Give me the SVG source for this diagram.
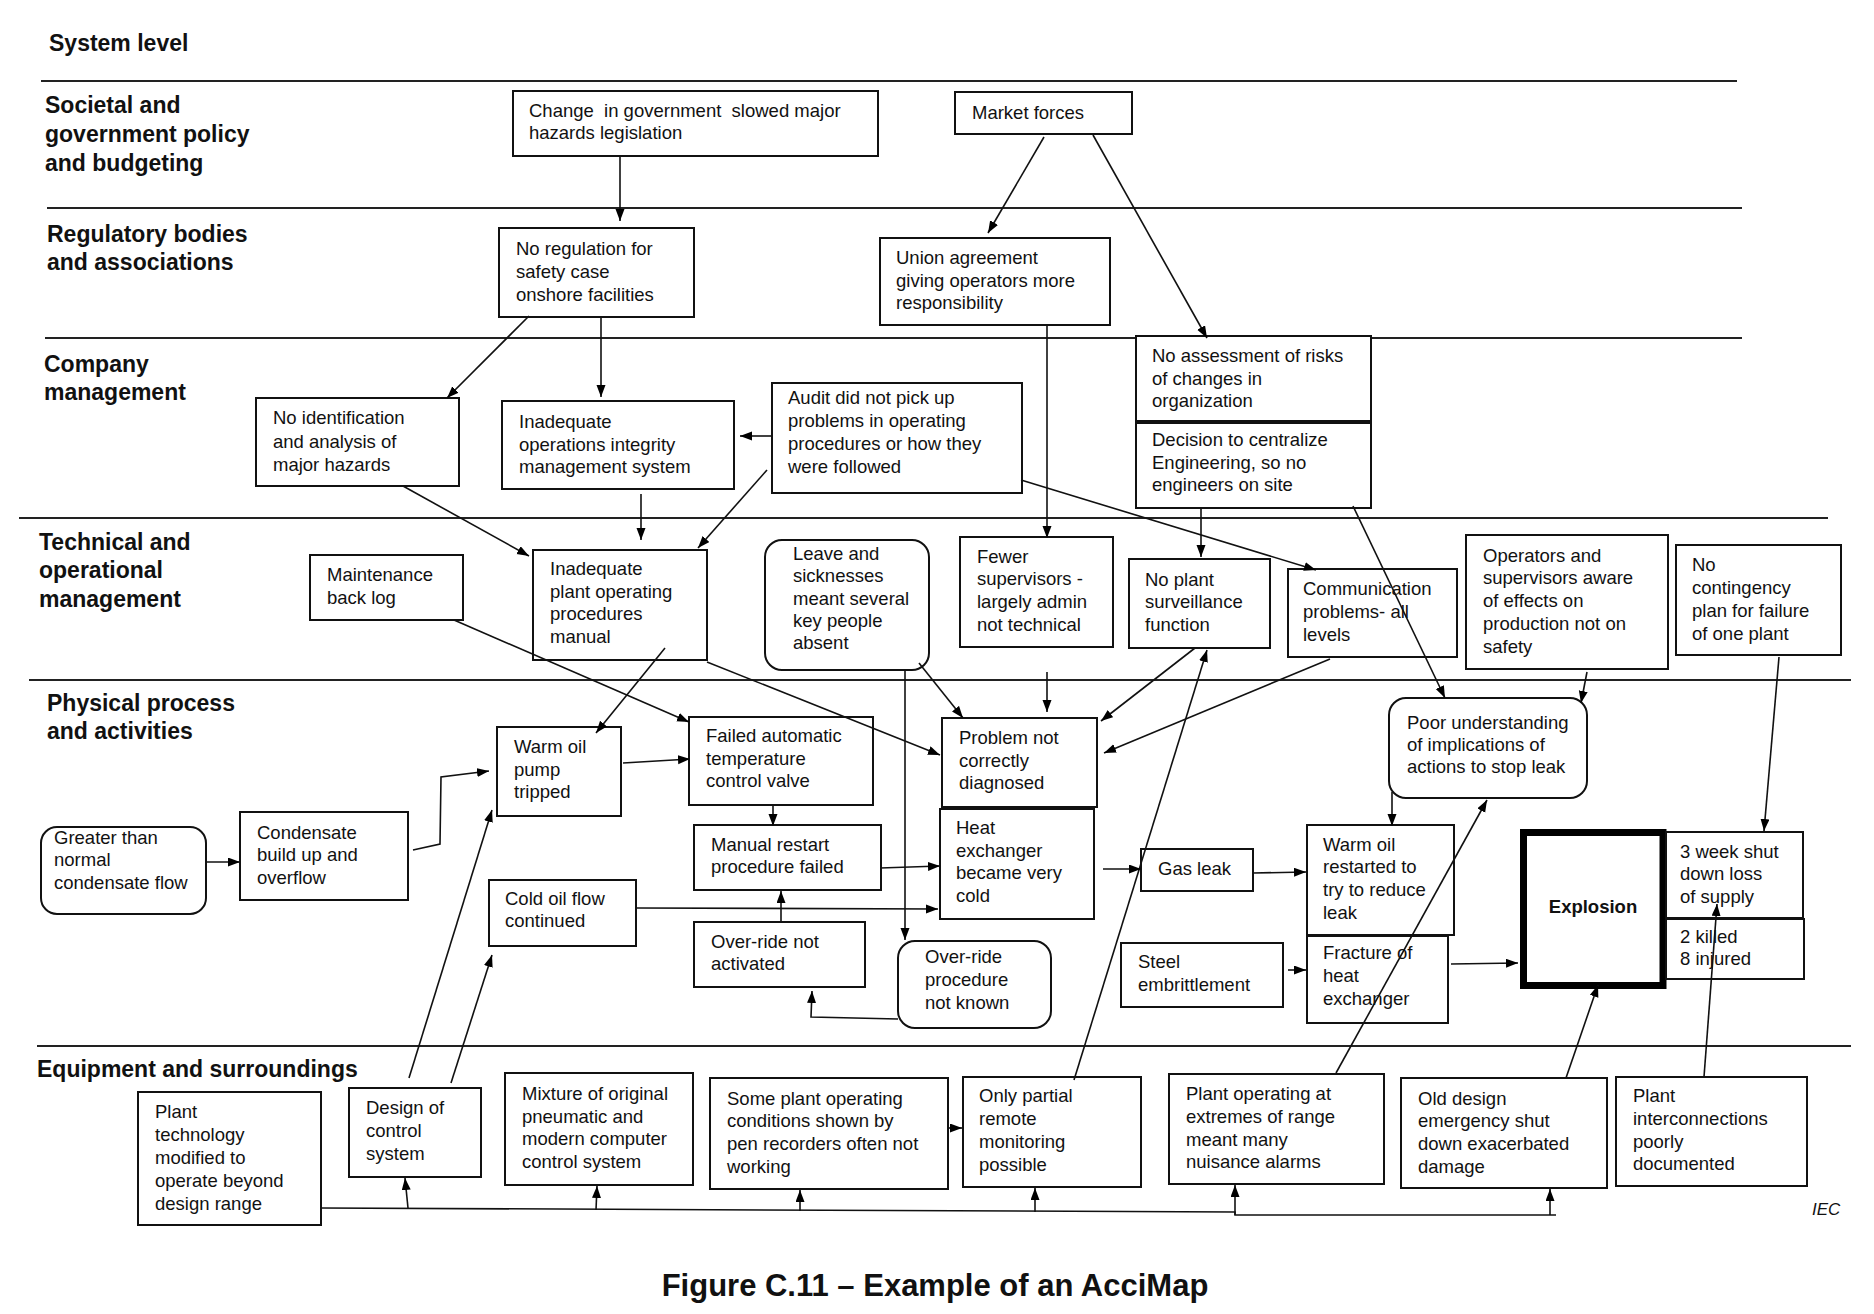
<svg xmlns="http://www.w3.org/2000/svg" width="1874" height="1314" viewBox="0 0 1874 1314">
<defs>
<marker id="ah" markerUnits="userSpaceOnUse" markerWidth="13" markerHeight="10" refX="12" refY="4.5" orient="auto">
<path d="M0,0 L12,4.5 L0,9 z" fill="#000"/>
</marker>
<style>
.lvl{fill:none;stroke:#222;stroke-width:2}
.lab{font-family:"Liberation Sans",Arial,sans-serif;font-weight:bold;font-size:23px;fill:#111}
.box{fill:#fff;stroke:#111;stroke-width:2}
.t{font-family:"Liberation Sans",Arial,sans-serif;font-size:18.5px;fill:#111}
.tb{font-family:"Liberation Sans",Arial,sans-serif;font-size:18.5px;font-weight:bold;fill:#111}
.c{fill:none;stroke:#111;stroke-width:1.6;marker-end:url(#ah)}
.cn{fill:none;stroke:#111;stroke-width:1.6}
</style>
</defs>
<rect width="1874" height="1314" fill="#fff"/>

<g id="levels">
<line class="lvl" x1="41" y1="81" x2="1737" y2="81"/>
<line class="lvl" x1="47" y1="208" x2="1742" y2="208"/>
<line class="lvl" x1="45" y1="338" x2="1742" y2="338"/>
<line class="lvl" x1="19" y1="518" x2="1828" y2="518"/>
<line class="lvl" x1="29" y1="680" x2="1851" y2="680"/>
<line class="lvl" x1="37" y1="1046" x2="1851" y2="1046"/>
<text class="lab" x="49" y="51">System level</text>
<text class="lab" x="45" y="113">Societal and<tspan x="45" y="142">government policy</tspan><tspan x="45" y="171">and budgeting</tspan></text>
<text class="lab" x="47" y="242">Regulatory bodies<tspan x="47" y="270">and associations</tspan></text>
<text class="lab" x="44" y="372">Company<tspan x="44" y="400">management</tspan></text>
<text class="lab" x="39" y="550">Technical and<tspan x="39" y="578">operational</tspan><tspan x="39" y="607">management</tspan></text>
<text class="lab" x="47" y="711">Physical process<tspan x="47" y="739">and activities</tspan></text>
<text class="lab" x="37" y="1077">Equipment and surroundings</text>
</g>

<g id="n1"><rect class="box" x="513" y="91" width="365" height="65"/><text class="t" x="529" y="117" xml:space="preserve">Change  in government  slowed major<tspan x="529" y="139">hazards legislation</tspan></text></g>
<g id="n2"><rect class="box" x="955" y="92" width="177" height="42"/><text class="t" x="972" y="119">Market forces</text></g>
<g id="n3"><rect class="box" x="499" y="228" width="195" height="89"/><text class="t" x="516" y="255">No regulation for<tspan x="516" y="278">safety case</tspan><tspan x="516" y="301">onshore facilities</tspan></text></g>
<g id="n4"><rect class="box" x="880" y="238" width="230" height="87"/><text class="t" x="896" y="264">Union agreement<tspan x="896" y="287">giving operators more</tspan><tspan x="896" y="309">responsibility</tspan></text></g>
<g id="n5"><rect class="box" x="1136" y="336" width="235" height="85"/><text class="t" x="1152" y="362">No assessment of risks<tspan x="1152" y="385">of changes in</tspan><tspan x="1152" y="407">organization</tspan></text></g>
<g id="n6"><rect class="box" x="1136" y="423" width="235" height="85"/><text class="t" x="1152" y="446">Decision to centralize<tspan x="1152" y="469">Engineering, so no</tspan><tspan x="1152" y="491">engineers on site</tspan></text></g>
<g id="n7"><rect class="box" x="256" y="398" width="203" height="88"/><text class="t" x="273" y="424">No identification<tspan x="273" y="448">and analysis of</tspan><tspan x="273" y="471">major hazards</tspan></text></g>
<g id="n8"><rect class="box" x="502" y="401" width="232" height="88"/><text class="t" x="519" y="428">Inadequate<tspan x="519" y="451">operations integrity</tspan><tspan x="519" y="473">management system</tspan></text></g>
<g id="n9"><rect class="box" x="772" y="383" width="250" height="110"/><text class="t" x="788" y="404">Audit did not pick up<tspan x="788" y="427">problems in operating</tspan><tspan x="788" y="450">procedures or how they</tspan><tspan x="788" y="473">were followed</tspan></text></g>
<g id="n10"><rect class="box" x="310" y="555" width="153" height="65"/><text class="t" x="327" y="581">Maintenance<tspan x="327" y="604">back log</tspan></text></g>
<g id="n11"><rect class="box" x="533" y="550" width="174" height="110"/><text class="t" x="550" y="575">Inadequate<tspan x="550" y="598">plant operating</tspan><tspan x="550" y="620">procedures</tspan><tspan x="550" y="643">manual</tspan></text></g>
<g id="n12"><rect class="box" x="765" y="540" width="164" height="130" rx="17"/><text class="t" x="793" y="560">Leave and<tspan x="793" y="582">sicknesses</tspan><tspan x="793" y="605">meant several</tspan><tspan x="793" y="627">key people</tspan><tspan x="793" y="649">absent</tspan></text></g>
<g id="n13"><rect class="box" x="960" y="537" width="153" height="110"/><text class="t" x="977" y="563">Fewer<tspan x="977" y="585">supervisors -</tspan><tspan x="977" y="608">largely admin</tspan><tspan x="977" y="631">not technical</tspan></text></g>
<g id="n14"><rect class="box" x="1129" y="559" width="141" height="89"/><text class="t" x="1145" y="586">No plant<tspan x="1145" y="608">surveillance</tspan><tspan x="1145" y="631">function</tspan></text></g>
<g id="n15"><rect class="box" x="1288" y="569" width="169" height="88"/><text class="t" x="1303" y="595">Communication<tspan x="1303" y="618">problems- all</tspan><tspan x="1303" y="641">levels</tspan></text></g>
<g id="n16"><rect class="box" x="1466" y="535" width="202" height="134"/><text class="t" x="1483" y="562">Operators and<tspan x="1483" y="584">supervisors aware</tspan><tspan x="1483" y="607">of effects on</tspan><tspan x="1483" y="630">production not on</tspan><tspan x="1483" y="653">safety</tspan></text></g>
<g id="n17"><rect class="box" x="1676" y="545" width="165" height="110"/><text class="t" x="1692" y="571">No<tspan x="1692" y="594">contingency</tspan><tspan x="1692" y="617">plan for failure</tspan><tspan x="1692" y="640">of one plant</tspan></text></g>
<g id="n18"><rect class="box" x="497" y="727" width="124" height="89"/><text class="t" x="514" y="753">Warm oil<tspan x="514" y="776">pump</tspan><tspan x="514" y="798">tripped</tspan></text></g>
<g id="n19"><rect class="box" x="689" y="717" width="184" height="88"/><text class="t" x="706" y="742">Failed automatic<tspan x="706" y="765">temperature</tspan><tspan x="706" y="787">control valve</tspan></text></g>
<g id="n20"><rect class="box" x="41" y="827" width="165" height="87" rx="16"/><text class="t" x="54" y="844">Greater than<tspan x="54" y="866">normal</tspan><tspan x="54" y="889">condensate flow</tspan></text></g>
<g id="n21"><rect class="box" x="240" y="812" width="168" height="88"/><text class="t" x="257" y="839">Condensate<tspan x="257" y="861">build up and</tspan><tspan x="257" y="884">overflow</tspan></text></g>
<g id="n22"><rect class="box" x="489" y="880" width="147" height="66"/><text class="t" x="505" y="905">Cold oil flow<tspan x="505" y="927">continued</tspan></text></g>
<g id="n23"><rect class="box" x="694" y="825" width="187" height="65"/><text class="t" x="711" y="851">Manual restart<tspan x="711" y="873">procedure failed</tspan></text></g>
<g id="n24"><rect class="box" x="694" y="922" width="171" height="65"/><text class="t" x="711" y="948">Over-ride not<tspan x="711" y="970">activated</tspan></text></g>
<g id="n25"><rect class="box" x="942" y="718" width="155" height="89"/><text class="t" x="959" y="744">Problem not<tspan x="959" y="767">correctly</tspan><tspan x="959" y="789">diagnosed</tspan></text></g>
<g id="n26"><rect class="box" x="940" y="809" width="154" height="110"/><text class="t" x="956" y="834">Heat<tspan x="956" y="857">exchanger</tspan><tspan x="956" y="879">became very</tspan><tspan x="956" y="902">cold</tspan></text></g>
<g id="n27"><rect class="box" x="898" y="941" width="153" height="87" rx="17"/><text class="t" x="925" y="963">Over-ride<tspan x="925" y="986">procedure</tspan><tspan x="925" y="1009">not known</tspan></text></g>
<g id="n28"><rect class="box" x="1141" y="849" width="112" height="42"/><text class="t" x="1158" y="875">Gas leak</text></g>
<g id="n29"><rect class="box" x="1389" y="698" width="198" height="100" rx="17"/><text class="t" x="1407" y="729">Poor understanding<tspan x="1407" y="751">of implications of</tspan><tspan x="1407" y="773">actions to stop leak</tspan></text></g>
<g id="n30"><rect class="box" x="1307" y="825" width="147" height="110"/><text class="t" x="1323" y="851">Warm oil<tspan x="1323" y="873">restarted to</tspan><tspan x="1323" y="896">try to reduce</tspan><tspan x="1323" y="919">leak</tspan></text></g>
<g id="n31"><rect class="box" x="1307" y="936" width="141" height="87"/><text class="t" x="1323" y="959">Fracture of<tspan x="1323" y="982">heat</tspan><tspan x="1323" y="1005">exchanger</tspan></text></g>
<g id="n32"><rect class="box" x="1121" y="943" width="162" height="64"/><text class="t" x="1138" y="968">Steel<tspan x="1138" y="991">embrittlement</tspan></text></g>
<g id="n33"><rect x="1523.5" y="832.5" width="139.5" height="153" fill="#fff" stroke="#000" stroke-width="7"/><text class="tb" x="1593" y="913" text-anchor="middle">Explosion</text></g>
<g id="n34"><rect class="box" x="1666" y="832" width="137" height="86"/><text class="t" x="1680" y="858">3 week shut<tspan x="1680" y="880">down loss</tspan><tspan x="1680" y="903">of supply</tspan></text></g>
<g id="n35"><rect class="box" x="1666" y="919" width="138" height="60"/><text class="t" x="1680" y="943">2 killed<tspan x="1680" y="965">8 injured</tspan></text></g>
<g id="n36"><rect class="box" x="138" y="1092" width="183" height="133"/><text class="t" x="155" y="1118">Plant<tspan x="155" y="1141">technology</tspan><tspan x="155" y="1164">modified to</tspan><tspan x="155" y="1187">operate beyond</tspan><tspan x="155" y="1210">design range</tspan></text></g>
<g id="n37"><rect class="box" x="349" y="1088" width="132" height="89"/><text class="t" x="366" y="1114">Design of<tspan x="366" y="1137">control</tspan><tspan x="366" y="1160">system</tspan></text></g>
<g id="n38"><rect class="box" x="505" y="1073" width="188" height="112"/><text class="t" x="522" y="1100">Mixture of original<tspan x="522" y="1123">pneumatic and</tspan><tspan x="522" y="1145">modern computer</tspan><tspan x="522" y="1168">control system</tspan></text></g>
<g id="n39"><rect class="box" x="710" y="1078" width="238" height="111"/><text class="t" x="727" y="1105">Some plant operating<tspan x="727" y="1127">conditions shown by</tspan><tspan x="727" y="1150">pen recorders often not</tspan><tspan x="727" y="1173">working</tspan></text></g>
<g id="n40"><rect class="box" x="963" y="1077" width="178" height="110"/><text class="t" x="979" y="1102">Only partial<tspan x="979" y="1125">remote</tspan><tspan x="979" y="1148">monitoring</tspan><tspan x="979" y="1171">possible</tspan></text></g>
<g id="n41"><rect class="box" x="1169" y="1074" width="215" height="110"/><text class="t" x="1186" y="1100">Plant operating at<tspan x="1186" y="1123">extremes of range</tspan><tspan x="1186" y="1146">meant many</tspan><tspan x="1186" y="1168">nuisance alarms</tspan></text></g>
<g id="n42"><rect class="box" x="1401" y="1078" width="206" height="110"/><text class="t" x="1418" y="1105">Old design<tspan x="1418" y="1127">emergency shut</tspan><tspan x="1418" y="1150">down exacerbated</tspan><tspan x="1418" y="1173">damage</tspan></text></g>
<g id="n43"><rect class="box" x="1616" y="1077" width="191" height="109"/><text class="t" x="1633" y="1102">Plant<tspan x="1633" y="1125">interconnections</tspan><tspan x="1633" y="1148">poorly</tspan><tspan x="1633" y="1170">documented</tspan></text></g>

<g id="connectors">
<line class="c" x1="620" y1="156" x2="620" y2="221"/>
<line class="c" x1="1044" y1="137" x2="988" y2="233"/>
<line class="c" x1="1093" y1="135" x2="1207" y2="338"/>
<line class="c" x1="529" y1="316" x2="447" y2="398"/>
<line class="c" x1="601" y1="316" x2="601" y2="397"/>
<line class="c" x1="772" y1="436" x2="740" y2="436"/>
<line class="c" x1="1047" y1="326" x2="1047" y2="538"/>
<line class="c" x1="1201" y1="508" x2="1201" y2="557"/>
<line class="c" x1="1021" y1="480" x2="1316" y2="570"/>
<line class="c" x1="1353" y1="506" x2="1445" y2="698"/>
<line class="c" x1="403" y1="486" x2="529" y2="556"/>
<line class="c" x1="641" y1="494" x2="641" y2="540"/>
<line class="c" x1="767" y1="470" x2="698" y2="548"/>
<line class="c" x1="454" y1="620" x2="689" y2="722"/>
<line class="c" x1="665" y1="648" x2="596" y2="733"/>
<line class="c" x1="707" y1="662" x2="940" y2="755"/>
<line class="c" x1="919" y1="663" x2="963" y2="718"/>
<line class="c" x1="905" y1="671" x2="905" y2="940"/>
<line class="c" x1="1047" y1="672" x2="1047" y2="712"/>
<line class="c" x1="1195" y1="648" x2="1101" y2="721"/>
<line class="c" x1="1330" y1="659" x2="1104" y2="753"/>
<line class="c" x1="1074" y1="1080" x2="1207" y2="650"/>
<line class="c" x1="1587" y1="672" x2="1581" y2="703"/>
<line class="c" x1="1779" y1="657" x2="1764" y2="831"/>
<line class="c" x1="623" y1="763" x2="690" y2="759"/>
<line class="c" x1="207" y1="862" x2="240" y2="862"/>
<polyline class="c" points="413,850 440,844 441,777 489,771"/>
<line class="c" x1="773" y1="806" x2="773" y2="826"/>
<line class="c" x1="880" y1="868" x2="940" y2="866"/>
<line class="c" x1="636" y1="908" x2="938" y2="909"/>
<line class="c" x1="781" y1="922" x2="781" y2="891"/>
<polyline class="c" points="898,1019 811,1017 812,991"/>
<line class="c" x1="1103" y1="869" x2="1141" y2="869"/>
<line class="c" x1="1253" y1="873" x2="1306" y2="872"/>
<line class="c" x1="1392" y1="792" x2="1392" y2="826"/>
<line class="c" x1="1336" y1="1073" x2="1487" y2="800"/>
<line class="c" x1="1288" y1="970" x2="1306" y2="970"/>
<line class="c" x1="1451" y1="964" x2="1518" y2="963"/>
<line class="c" x1="1566" y1="1078" x2="1598" y2="985"/>
<line class="c" x1="1704" y1="1077" x2="1717" y2="904"/>
<line class="c" x1="409" y1="1078" x2="492" y2="810"/>
<line class="c" x1="451" y1="1083" x2="492" y2="955"/>
<line class="c" x1="948" y1="1128" x2="962" y2="1128"/>
<polyline class="cn" points="321,1208 1235,1212 1235,1215 1556,1215"/>
<line class="c" x1="408" y1="1208" x2="405" y2="1178"/>
<line class="c" x1="596" y1="1210" x2="597" y2="1186"/>
<line class="c" x1="800" y1="1211" x2="800" y2="1190"/>
<line class="c" x1="1035" y1="1212" x2="1035" y2="1188"/>
<line class="c" x1="1235" y1="1215" x2="1235" y2="1185"/>
<line class="c" x1="1550" y1="1215" x2="1550" y2="1189"/>
</g>

<text x="1812" y="1215" font-family="'Liberation Sans',Arial,sans-serif" font-size="17" font-style="italic" fill="#111">IEC</text>
<text x="935" y="1296" text-anchor="middle" font-family="'Liberation Sans',Arial,sans-serif" font-size="31" font-weight="bold" fill="#111">Figure C.11 – Example of an AcciMap</text>
</svg>
